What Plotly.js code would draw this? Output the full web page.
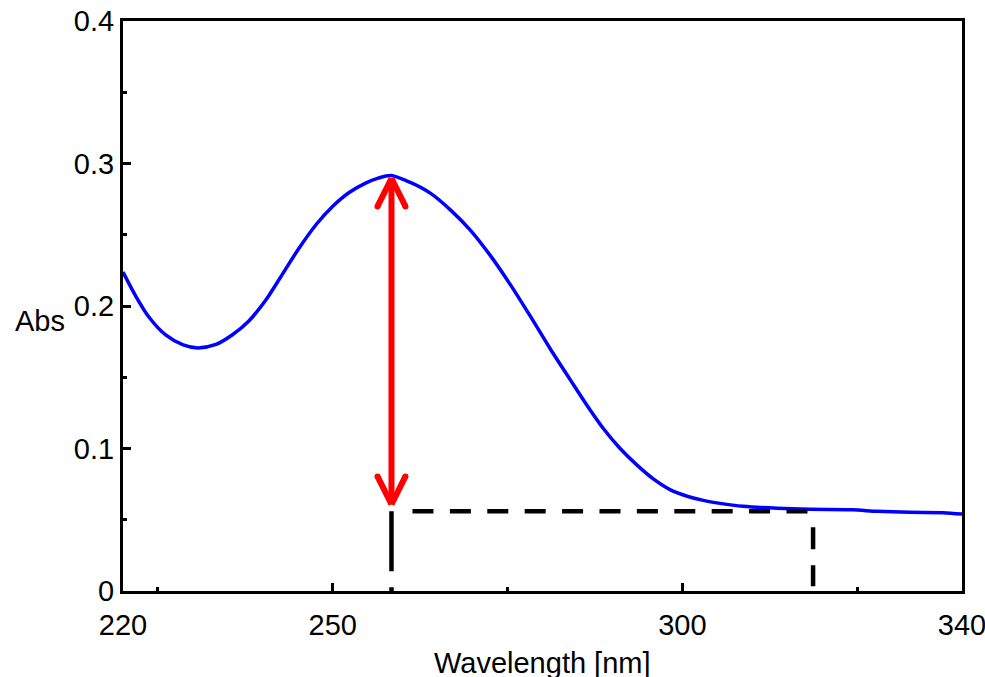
<!DOCTYPE html>
<html>
<head>
<meta charset="utf-8">
<script src="https://cdn.plot.ly/plotly-3.0.1.min.js"></script>
<style>
  html, body { margin: 0; padding: 0; background: #ffffff; }
  #chart { width: 985px; height: 677px; }
</style>
</head>
<body>
<div id="chart"></div>
<script>
// ---- data ----
const wavelength = [220, 221.9, 223.7, 226.1, 228.6, 230.7, 233.3, 235.7, 238, 240.4, 242.9, 245.1, 247.6, 250, 252.3, 254.7, 256.5, 258.3, 261.1, 264, 266.9, 269.7, 272.6, 275.4, 278.3, 281.1, 284, 286.4, 288.7, 291.1, 293.6, 295.9, 298.3, 300.7, 303, 305.4, 308.7, 313.6, 318.3, 324.3, 327.9, 332.6, 337.3, 340];
const absorbance = [0.2238, 0.2063, 0.1923, 0.1797, 0.1727, 0.1706, 0.1730, 0.1800, 0.1895, 0.2040, 0.2231, 0.2400, 0.2570, 0.2700, 0.2795, 0.2862, 0.2897, 0.2916, 0.2867, 0.2790, 0.2671, 0.2531, 0.2350, 0.2150, 0.1925, 0.1700, 0.1480, 0.1300, 0.1140, 0.1000, 0.0880, 0.0785, 0.0710, 0.0665, 0.0636, 0.0615, 0.0594, 0.0580, 0.0573, 0.0570, 0.0559, 0.0552, 0.0550, 0.0540];

// peak-height arrow and baseline construction
const peakWavelength = 258.4;
const arrowTop = 0.2895;
const arrowBottom = 0.0608;
const baselineLevel = 0.056;
const baselineEnd = 318.7;

// tick labels
const xTickVals = [220, 250, 300, 340];
const xTickText = ['220', '250', '300', '340'];
const xMinorVals = [225, 275, 325];
const yTickVals = [0, 0.1, 0.2, 0.3, 0.4];
const yTickText = ['0', '0.1', '0.2', '0.3', '0.4'];
const yMinorVals = [0.05, 0.15, 0.25, 0.35];

// ---- styling helpers ----
const headDx = 2.0;     // nm, half-width of chevron head
const headDy = 0.0196;  // absorbance, length of chevron head
const FONT = 'Liberation Sans, Arial, Helvetica, sans-serif';
const FS = 29;

function repeatDash(first, dash, gap, count, tail) {
  const parts = [first];
  for (let i = 0; i < count; i++) { parts.push(dash + 'px', gap + 'px'); }
  parts.push(tail);
  return parts.join(',');
}

const traces = [
  {
    x: wavelength, y: absorbance, type: 'scatter', mode: 'lines',
    line: { color: '#0000ff', width: 3.5, shape: 'spline', smoothing: 0.8 },
    hoverinfo: 'skip'
  },
  // left vertical dashed
  {
    x: [peakWavelength, peakWavelength], y: [baselineLevel, 0], type: 'scatter', mode: 'lines',
    line: { color: '#000000', width: 4.5, dash: '60px,16px,4px,200px' }, hoverinfo: 'skip'
  },
  // horizontal dashed baseline
  {
    x: [peakWavelength, baselineEnd], y: [baselineLevel, baselineLevel], type: 'scatter', mode: 'lines',
    line: { color: '#000000', width: 4.5, dash: repeatDash('0px,21px', 21, 16.4, 10, '21px,200px') }, hoverinfo: 'skip'
  },
  // right vertical dashed
  {
    x: [baselineEnd, baselineEnd], y: [baselineLevel, 0], type: 'scatter', mode: 'lines',
    line: { color: '#000000', width: 4.5, dash: '0px,16px,22px,16px,21px,200px' }, hoverinfo: 'skip'
  },
  // arrow shaft
  {
    x: [peakWavelength, peakWavelength], y: [arrowTop, arrowBottom], type: 'scatter', mode: 'lines',
    line: { color: '#ff0000', width: 6 }, hoverinfo: 'skip'
  },
  // arrow heads (open chevrons)
  {
    x: [peakWavelength - headDx, peakWavelength, null, peakWavelength + headDx, peakWavelength, null,
        peakWavelength - headDx, peakWavelength, null, peakWavelength + headDx, peakWavelength],
    y: [arrowTop - headDy, arrowTop, null, arrowTop - headDy, arrowTop, null,
        arrowBottom + headDy, arrowBottom, null, arrowBottom + headDy, arrowBottom],
    type: 'scatter', mode: 'lines', connectgaps: false,
    line: { color: '#ff0000', width: 6 }, hoverinfo: 'skip'
  },
  // rounded ends of chevron arms
  {
    x: [peakWavelength - headDx, peakWavelength + headDx, peakWavelength - headDx, peakWavelength + headDx],
    y: [arrowTop - headDy, arrowTop - headDy, arrowBottom + headDy, arrowBottom + headDy],
    type: 'scatter', mode: 'markers',
    marker: { color: '#ff0000', size: 6, line: { width: 0 } }, hoverinfo: 'skip'
  }
];

const layout = {
  width: 985, height: 677,
  margin: { l: 123, r: 23, t: 21, b: 86, pad: 0 },
  paper_bgcolor: '#ffffff', plot_bgcolor: '#ffffff',
  showlegend: false,
  font: { family: FONT, size: FS, color: '#000000' },
  xaxis: {
    range: [220, 340], showgrid: false, zeroline: false,
    showline: true, linecolor: '#000000', linewidth: 3, mirror: true,
    ticks: 'inside', ticklen: 8, tickwidth: 3, tickcolor: '#000000',
    tickmode: 'array', tickvals: xTickVals, ticktext: xTickText,
    tickfont: { family: FONT, size: FS, color: '#000000' },
    ticklabeloverflow: 'allow', ticklabelstandoff: 6,
    minor: { tickmode: 'array', tickvals: xMinorVals, ticks: 'inside', ticklen: 4, tickwidth: 3, tickcolor: '#000000', showgrid: false },
    fixedrange: true
  },
  yaxis: {
    range: [0, 0.4], showgrid: false, zeroline: false,
    showline: true, linecolor: '#000000', linewidth: 3, mirror: true,
    ticks: 'inside', ticklen: 8, tickwidth: 3, tickcolor: '#000000',
    tickmode: 'array', tickvals: yTickVals, ticktext: yTickText,
    tickfont: { family: FONT, size: FS, color: '#000000' },
    ticklabeloverflow: 'allow',
    minor: { tickmode: 'array', tickvals: yMinorVals, ticks: 'inside', ticklen: 4, tickwidth: 3, tickcolor: '#000000', showgrid: false },
    fixedrange: true
  },
  annotations: [
    { text: 'Abs', xref: 'paper', yref: 'paper', x: -0.099, y: 0.473, xanchor: 'center', yanchor: 'middle',
      showarrow: false, font: { family: FONT, size: FS, color: '#000000' } },
    { text: 'Wavelength [nm]', xref: 'paper', yref: 'paper', x: 0.5, y: 0, yshift: -72, xanchor: 'center', yanchor: 'middle',
      showarrow: false, font: { family: FONT, size: FS, color: '#000000' } }
  ]
};

Plotly.newPlot('chart', traces, layout, { displayModeBar: false, staticPlot: true });
</script>
</body>
</html>
